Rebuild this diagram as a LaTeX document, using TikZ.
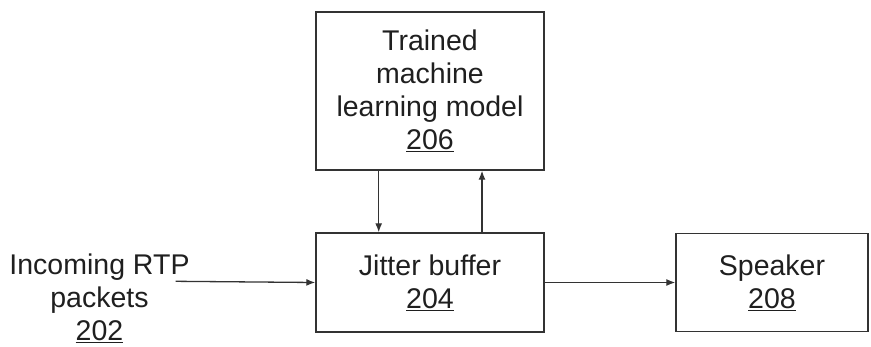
\documentclass[tikz,border=0pt]{standalone}
\usepackage{fontspec}
\setmainfont{Liberation Sans}
\usetikzlibrary{arrows.meta}
\newcommand\refnum[1]{\underline{#1}}
\begin{document}
\begin{tikzpicture}[x=1pt,y=-1pt,
  every node/.style={font=\fontsize{28.5}{33}\selectfont, text=black!88},
  block/.style={draw=black!80, line width=1.4pt, inner sep=0pt, align=center},
  link/.style={draw=black!80, line width=1.3pt, -{Latex[length=9pt,width=7pt]}}]
  \useasboundingbox (0,0) rectangle (871,346);
  % main blocks
  \node[block, minimum width=228pt, minimum height=158pt] (model) at (430,91)
    {Trained\\machine\\learning model\\\refnum{206}};
  \node[block, minimum width=228pt, minimum height=99pt] (jitter) at (430,282.5)
    {Jitter buffer\\\refnum{204}};
  \node[block, minimum width=192pt, minimum height=98pt] (speaker) at (772,282.5)
    {Speaker\\\refnum{208}};
  % input label
  \node[align=center, inner sep=0pt] (rtp) at (99.5,298)
    {Incoming RTP\\packets\\\refnum{202}};
  \coordinate (rtpend) at (175.7,281.3);
  % connectors
  \draw[link] (rtpend) -- (jitter.west);
  \draw[link] (jitter.east) -- (speaker.west);
  \draw[link] (model.south -| 378.7,0) -- (jitter.north -| 378.7,0);
  \draw[link] (jitter.north -| 482,0) -- (model.south -| 482,0);
\end{tikzpicture}
\end{document}
